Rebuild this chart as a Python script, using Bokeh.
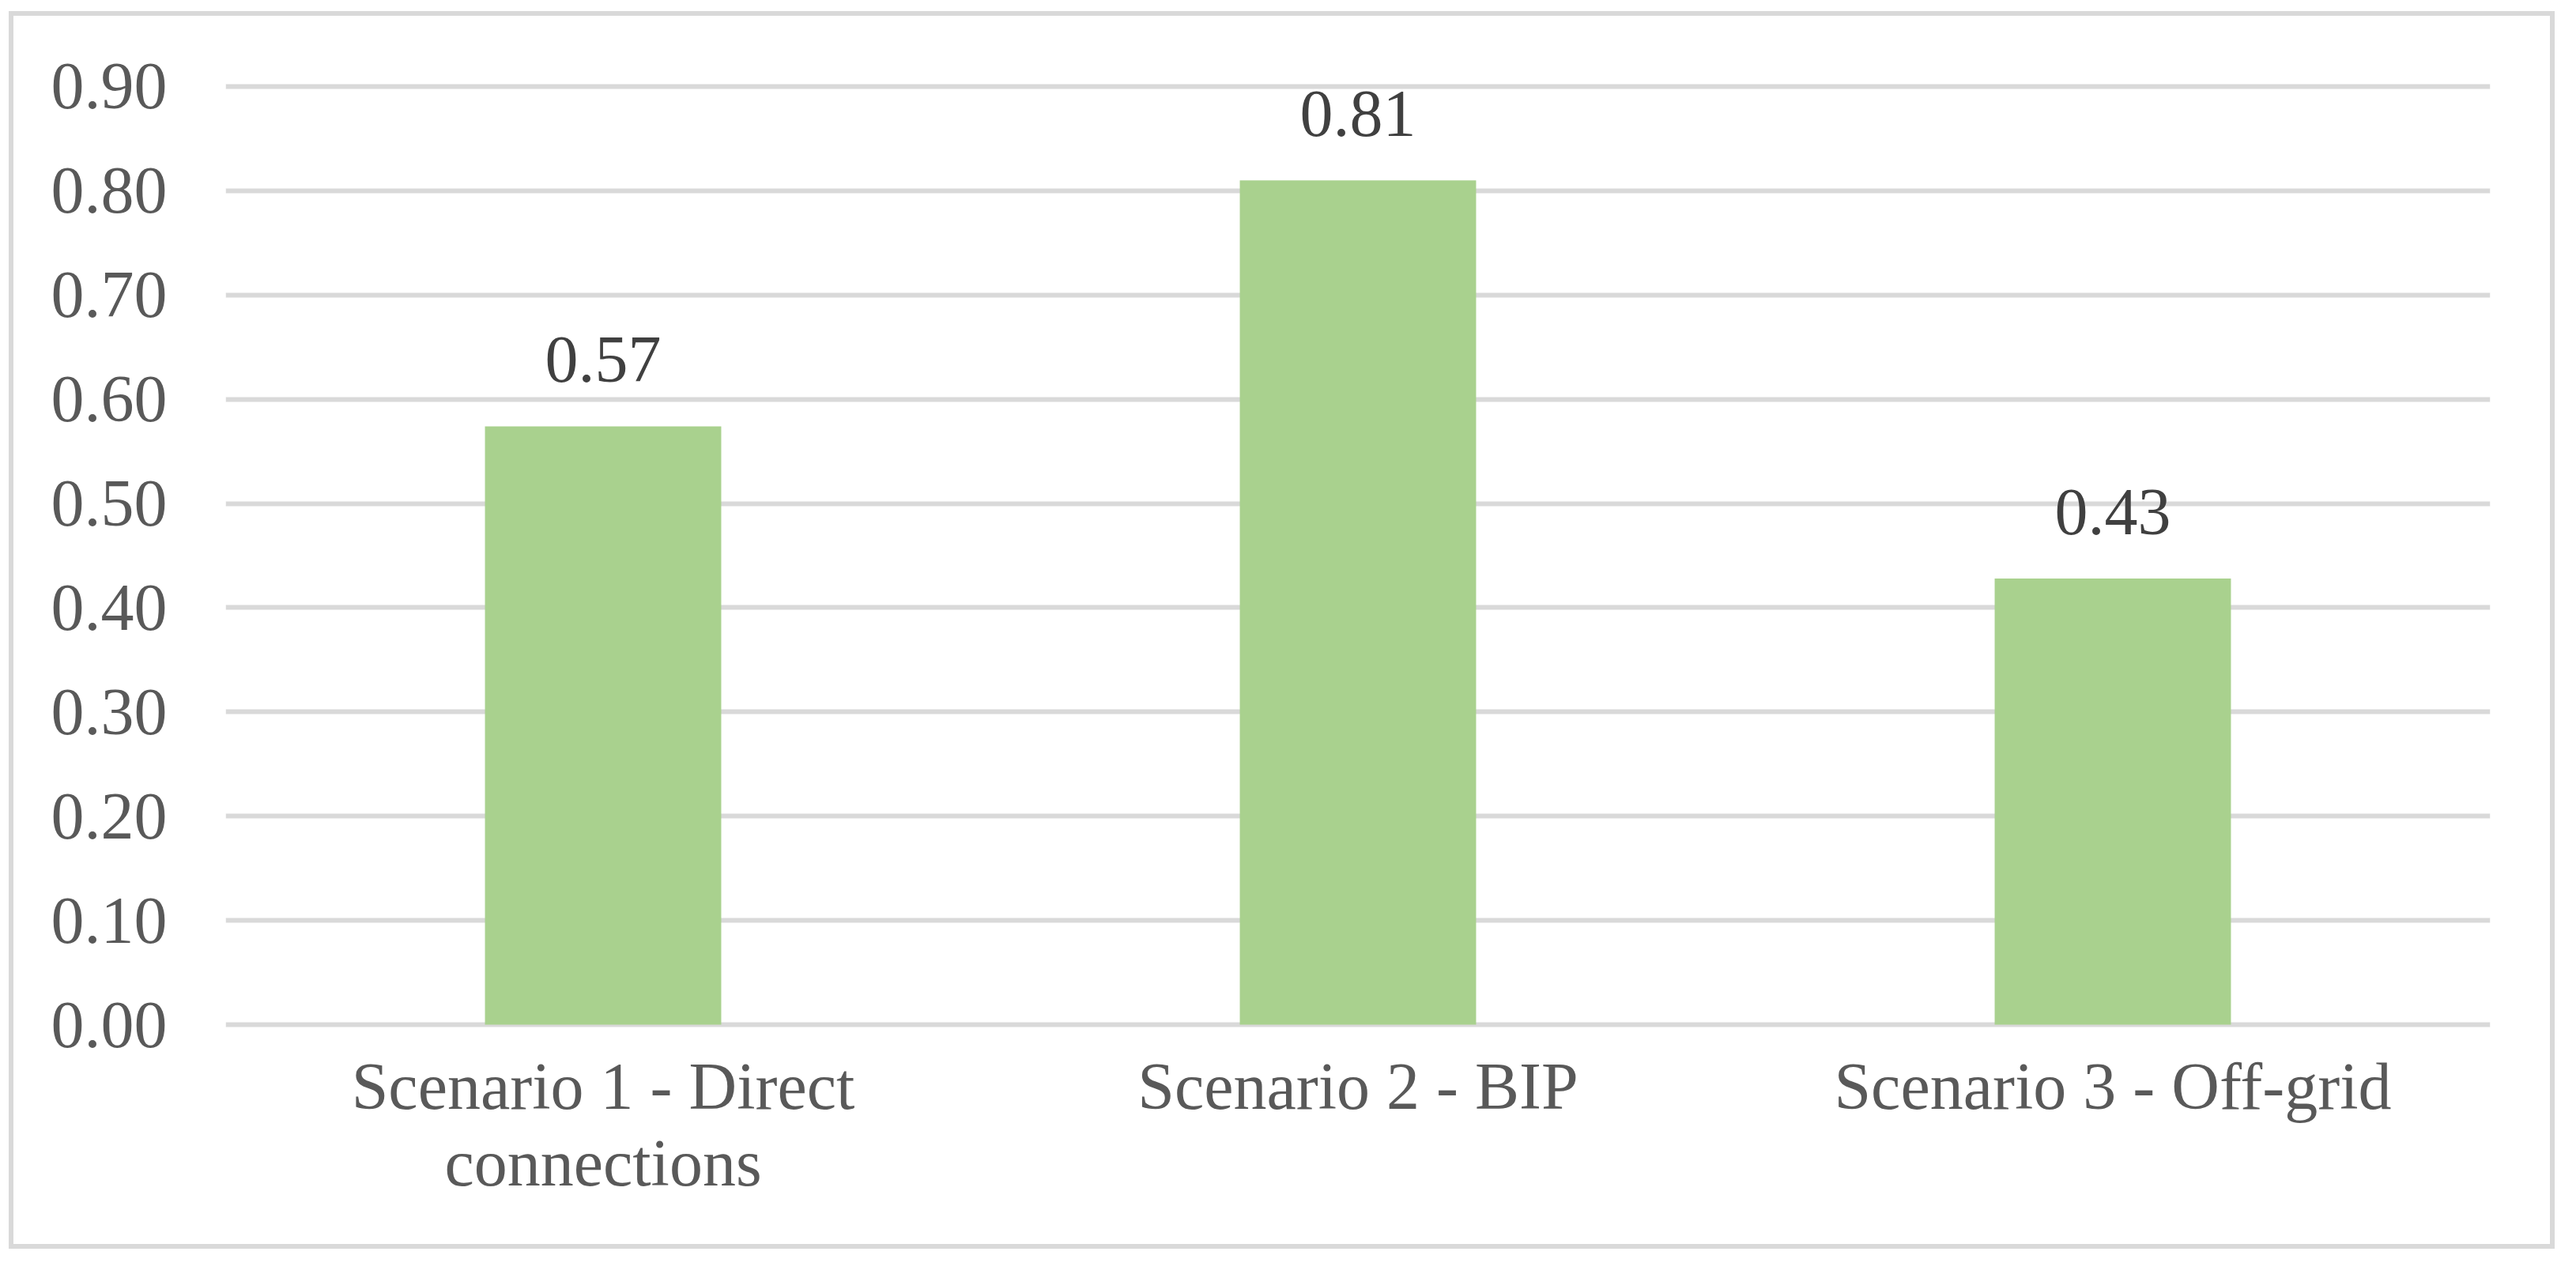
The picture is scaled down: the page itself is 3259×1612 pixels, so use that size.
from bokeh.plotting import figure
from bokeh.models import ColumnDataSource, FactorRange, Range1d, FixedTicker, NumeralTickFormatter, Spacer
from bokeh.layouts import column, row
from bokeh.core.properties import value
from bokeh.embed import file_html
from bokeh.resources import INLINE

# ---- data ----
categories = ["Scenario 1 - Direct\nconnections", "Scenario 2 - BIP", "Scenario 3 - Off-grid"]
values = [0.574, 0.810, 0.428]
value_labels = ["0.57", "0.81", "0.43"]
y_ticks = [0.0, 0.1, 0.2, 0.3, 0.4, 0.5, 0.6, 0.7, 0.8, 0.9]

FONT = "Liberation Serif"
GRID = "#D9D9D9"
BAR = "#A9D18E"

src = ColumnDataSource(dict(cat=categories, val=values, lab=value_labels))

p = figure(
    x_range=FactorRange(factors=categories),
    y_range=Range1d(-0.003, 0.903),
    width=3221, height=1566,
    output_backend="svg", toolbar_location=None,
    min_border_left=268, min_border_right=88,
    min_border_top=85, min_border_bottom=286,
    background_fill_color="white", border_fill_color="white",
    outline_line_color=None,
)
p.styles = {"border": "6px solid #D9D9D9", "box-sizing": "border-box"}

p.vbar(x="cat", top="val", width=0.313, bottom=0, source=src,
       fill_color=BAR, line_color=None)

p.text(x="cat", y="val", text="lab", source=src, y_offset=-84,
       text_align="center", text_baseline="alphabetic",
       text_font=value(FONT), text_font_size="84px", text_color="#404040")

# grid
p.xgrid.grid_line_color = None
p.ygrid.grid_line_color = GRID
p.ygrid.grid_line_width = 6
p.ygrid.ticker = FixedTicker(ticks=y_ticks)

# y axis
p.yaxis.ticker = FixedTicker(ticks=y_ticks)
p.yaxis.formatter = NumeralTickFormatter(format="0.00")
p.yaxis.axis_line_color = None
p.yaxis.major_tick_line_color = None
p.yaxis.minor_tick_line_color = None
p.yaxis.major_tick_in = 0
p.yaxis.major_tick_out = 0
p.yaxis.major_label_standoff = 74
p.yaxis.major_label_text_font = FONT
p.yaxis.major_label_text_font_size = "84px"
p.yaxis.major_label_text_color = "#595959"

# x axis
p.xaxis.axis_line_color = None
p.xaxis.major_tick_line_color = None
p.xaxis.minor_tick_line_color = None
p.xaxis.major_tick_in = 0
p.xaxis.major_tick_out = 0
p.xaxis.major_label_standoff = 27
p.xaxis.major_label_text_font = FONT
p.xaxis.major_label_text_font_size = "84px"
p.xaxis.major_label_text_line_height = 1.05
p.xaxis.major_label_text_color = "#595959"

layout = column(
    Spacer(width=10, height=14),
    row(Spacer(width=11, height=10), p, spacing=0),
    spacing=0,
)

open("out.html", "w").write(file_html(layout, INLINE))
